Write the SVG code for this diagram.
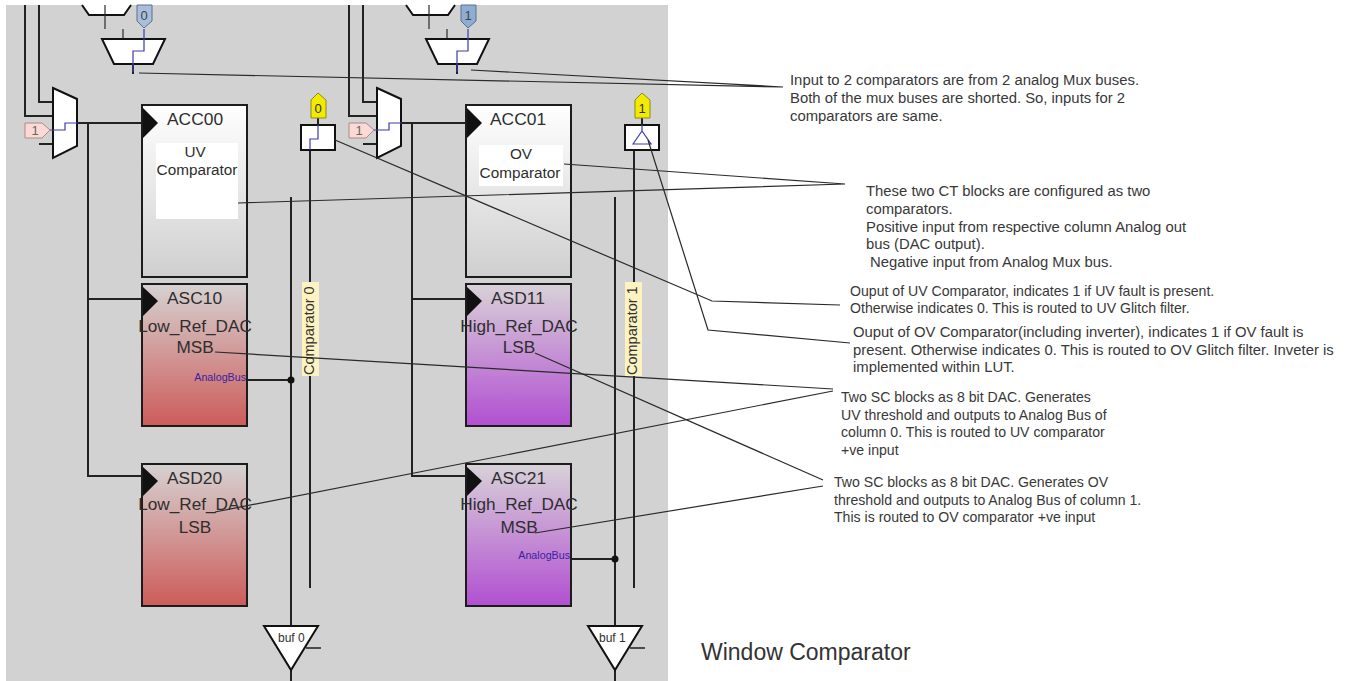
<svg xmlns="http://www.w3.org/2000/svg" width="1348" height="681" viewBox="0 0 1348 681">
<style>
text{font-family:"Liberation Sans",Arial,sans-serif;fill:#2e2e2e}
.w{fill:none;stroke:#222;stroke-width:2}
.n{fill:none;stroke:#2a2a2a;stroke-width:1.2}
.b{fill:none;stroke:#3a3ab0;stroke-width:1.2}
.s{fill:#fff;stroke:#111;stroke-width:2}
.blk{stroke:#1c1c1c;stroke-width:2}
.t{font-size:14.1px;fill:#383838}
.t2{font-size:14.85px;fill:#383838}
.h{font-size:17.4px}
.r{font-size:17.2px;text-anchor:middle}
.m{font-size:15.3px;text-anchor:middle}
.ab{font-size:10.7px;fill:#3a1fa0;text-anchor:end}
.tag{font-size:13px;text-anchor:middle}
.c{font-size:14.5px;fill:#333}
</style>
<defs>
<linearGradient id="gw" x1="0" y1="0" x2="0" y2="1"><stop offset="0" stop-color="#fff"/><stop offset="1" stop-color="#cfcfcf"/></linearGradient>
<linearGradient id="gr" x1="0" y1="0" x2="0" y2="1"><stop offset="0" stop-color="#d6d2d2"/><stop offset="1" stop-color="#cc5c5a"/></linearGradient>
<linearGradient id="gp" x1="0" y1="0" x2="0" y2="1"><stop offset="0" stop-color="#d8d2d8"/><stop offset="1" stop-color="#b24fd2"/></linearGradient>
<g id="col">
<path class="w" d="M25 5V116H53M39 5V102H53M39 144H53M78 123H142M88 123V476H142M88 299H142"/>
<path class="s" d="M82 5L89 15H124L131 5"/>
<path class="n" d="M105 5V29"/>
<path class="n" d="M123 29V39"/>
<path class="s" d="M102 39H165L153 64H114Z"/>
<path class="w" d="M133 64V74"/>
<path class="s" d="M53 88L77 99V146L53 158Z"/>
<path class="b" d="M50 130H65V123H78"/>
<path d="M25 123H42L50 130L42 138H25Z" fill="#fbd9d4" stroke="#b08a86"/>
<text class="tag" x="35" y="135" style="fill:#666">1</text>
<path class="w" d="M291 197V626M310 150V588M291 670V681"/>
<rect class="s" x="301" y="125" width="34" height="25"/>
<path class="w" d="M318 118V125"/>
<path d="M311 118V100L318 93L326 100V118Z" fill="#f2ea00" stroke="#8a8a20"/>
<path class="s" d="M264 626H318L291 670Z"/>
<path class="n" style="stroke-width:1.6" d="M306 648H321"/>
</g>
</defs>
<rect x="6" y="5" width="662" height="676" fill="#d2d2d2"/>
<g id="connectors">
<use href="#col"/>
<use href="#col" x="324"/>
<path class="b" d="M144 29V51H133V72"/>
<path class="b" d="M468 29V51H457V72"/>
<path class="b" d="M318 125V139H310V150"/>
<path class="b" d="M642 125V131M633 144L642 131L651 144Z"/>
<path class="w" d="M247 380H291M571 559H615"/>
<circle cx="291" cy="380" r="3.5" fill="#111"/>
<circle cx="615" cy="559" r="3.5" fill="#111"/>
</g>
<g id="tag-top-0"><path d="M137 5V21L144 28L152 21V5Z" fill="#a9bedc" stroke="#5f6f88"/><text class="tag" x="144" y="20" style="fill:#444">0</text></g>
<g id="tag-top-1"><path d="M461 5V21L468 28L476 21V5Z" fill="#8eacd4" stroke="#5f6f88"/><text class="tag" x="468" y="20" style="fill:#444">1</text></g>
<g id="tag-out-0"><text class="tag" x="318" y="113">0</text></g>
<g id="tag-out-1"><text class="tag" x="642" y="113">1</text></g>
<g id="ACC00"><rect class="blk" x="142" y="105" width="105" height="172" fill="url(#gw)"/><path d="M143 108L158 123L143 138Z" fill="#111"/><text class="h" x="167" y="125">ACC00</text><rect x="156" y="143" width="82" height="76" fill="#fff"/><text class="m" x="195" y="157">UV</text><text class="m" x="197" y="175">Comparator</text></g>
<g id="ACC01"><rect class="blk" x="466" y="105" width="105" height="172" fill="url(#gw)"/><path d="M467 108L482 123L467 138Z" fill="#111"/><text class="h" x="490" y="125">ACC01</text><rect x="479" y="145" width="84" height="41" fill="#fff"/><text class="m" x="521" y="159">OV</text><text class="m" x="520" y="178">Comparator</text></g>
<g id="ASC10"><rect class="blk" x="142" y="284" width="105" height="142" fill="url(#gr)"/><path d="M143 287L158 301L143 316Z" fill="#111"/><text class="h" x="167" y="304">ASC10</text><text class="r" x="195" y="332">Low_Ref_DAC</text><text class="r" x="195" y="353">MSB</text><text class="ab" x="246" y="381">AnalogBus</text></g>
<g id="ASD11"><rect class="blk" x="466" y="284" width="105" height="142" fill="url(#gp)"/><path d="M467 287L482 301L467 316Z" fill="#111"/><text class="h" x="491" y="304">ASD11</text><text class="r" x="519" y="332">High_Ref_DAC</text><text class="r" x="519" y="353">LSB</text></g>
<g id="ASD20"><rect class="blk" x="142" y="464" width="105" height="142" fill="url(#gr)"/><path d="M143 467L158 481L143 496Z" fill="#111"/><text class="h" x="167" y="484">ASD20</text><text class="r" x="195" y="510">Low_Ref_DAC</text><text class="r" x="195" y="533">LSB</text></g>
<g id="ASC21"><rect class="blk" x="466" y="464" width="105" height="142" fill="url(#gp)"/><path d="M467 467L482 481L467 496Z" fill="#111"/><text class="h" x="491" y="484">ASC21</text><text class="r" x="519" y="510">High_Ref_DAC</text><text class="r" x="519" y="533">MSB</text><text class="ab" x="570" y="559">AnalogBus</text></g>
<g id="comparator-0"><rect x="302" y="282" width="17" height="94" fill="#fdf3c0"/><text class="c" transform="translate(314 375) rotate(-90)">Comparator 0</text></g>
<g id="comparator-1"><rect x="625" y="282" width="17" height="94" fill="#fdf3c0"/><text class="c" transform="translate(637 375) rotate(-90)">Comparator 1</text></g>
<g id="buf-0"><text x="278" y="642" style="font-size:12px">buf 0</text></g>
<g id="buf-1"><text x="599" y="642" style="font-size:12px">buf 1</text></g>
<g id="annotation-lines">
<path class="n" d="M139 73L783 87M471 70L783 87"/>
<path class="n" d="M238 203L845 184M564 164L845 184"/>
<path class="n" d="M335 140L712 301L840 305M648 140L708 330L850 343"/>
<path class="n" d="M215 352L833 389M215 512L833 391"/>
<path class="n" d="M535 353L823 480M535 533L823 486"/>
</g>
<g id="notes">
<text class="t2" x="790" y="85">Input to 2 comparators are from 2 analog Mux buses.</text>
<text class="t2" x="790" y="103">Both of the mux buses are shorted. So, inputs for 2</text>
<text class="t2" x="790" y="121">comparators are same.</text>
<text class="t2" x="866" y="196">These two CT blocks are configured as two</text>
<text class="t2" x="866" y="214">comparators.</text>
<text class="t2" x="866" y="232">Positive input from respective column Analog out</text>
<text class="t2" x="866" y="249">bus (DAC output).</text>
<text class="t2" x="870" y="267">Negative input from Analog Mux bus.</text>
<text class="t" x="850" y="296">Ouput of UV Comparator, indicates 1 if UV fault is present.</text>
<text class="t" x="850" y="313">Otherwise indicates 0. This is routed to UV Glitch filter.</text>
<text class="t2" x="853" y="337">Ouput of OV Comparator(including inverter), indicates 1 if OV fault is</text>
<text class="t2" x="853" y="355">present. Otherwise indicates 0. This is routed to OV Glitch filter. Inveter is</text>
<text class="t2" x="853" y="372">implemented within LUT.</text>
<text class="t" x="841" y="402">Two SC blocks as 8 bit DAC. Generates</text>
<text class="t" x="841" y="420">UV threshold and outputs to Analog Bus of</text>
<text class="t" x="841" y="437">column 0. This is routed to UV comparator</text>
<text class="t" x="841" y="455">+ve input</text>
<text class="t" x="834" y="487">Two SC blocks as 8 bit DAC. Generates OV</text>
<text class="t" x="834" y="505">threshold and outputs to Analog Bus of column 1.</text>
<text class="t" x="834" y="522">This is routed to OV comparator +ve input</text>
<text x="701" y="660" style="font-size:23px;fill:#333">Window Comparator</text>
</g>
</svg>
